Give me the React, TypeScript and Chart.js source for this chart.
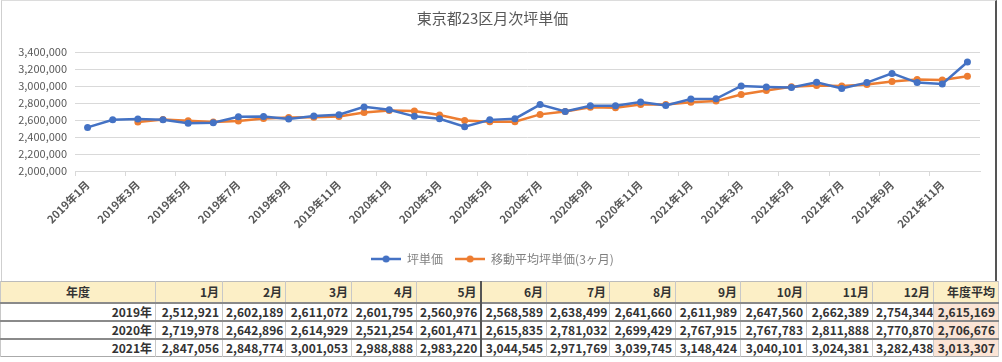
import React, { useEffect, useRef } from "react";
import { Chart, registerables } from "chart.js";

Chart.register(...registerables);

const FONT = "'Noto Sans CJK JP', 'Noto Sans', sans-serif";

const years = ["2019年", "2020年", "2021年"];
const monthHeaders = ["1月", "2月", "3月", "4月", "5月", "6月", "7月", "8月", "9月", "10月", "11月", "12月"];

const price2019 = [2512921, 2602189, 2611072, 2601795, 2560976, 2568589, 2638499, 2641660, 2611989, 2647560, 2662389, 2754344];
const price2020 = [2719978, 2642896, 2614929, 2521254, 2601471, 2615835, 2781032, 2699429, 2767915, 2767783, 2811888, 2770870];
const price2021 = [2847056, 2848774, 3001053, 2988888, 2983220, 3044545, 2971769, 3039745, 3148424, 3040101, 3024381, 3282438];
const annualAverage = [2615169, 2706676, 3013307];

const movingAverage = [
  null, null, 2575394, 2605019, 2591281, 2577120, 2589355, 2616249, 2630716, 2633736, 2640646, 2688098,
  2712237, 2705739, 2659268, 2593026, 2579218, 2579520, 2666113, 2698765, 2749459, 2745042, 2782529, 2783514,
  2809938, 2822233, 2898961, 2946238, 2991054, 3005551, 2999845, 3018686, 3053313, 3076090, 3070969, 3115640,
];

const yTicks = { min: 2000000, max: 3400000, step: 200000 };

const categories = years.flatMap((y) => monthHeaders.map((m) => y + m));
const priceRows = [price2019, price2020, price2021];

const BLUE = "#4472C4";
const ORANGE = "#ED7D31";

function legendImage(color: string) {
  const c = document.createElement("canvas");
  c.width = 30;
  c.height = 10;
  const g = c.getContext("2d")!;
  g.strokeStyle = color;
  g.lineWidth = 2.5;
  g.beginPath();
  g.moveTo(0, 5);
  g.lineTo(30, 5);
  g.stroke();
  g.fillStyle = color;
  g.beginPath();
  g.arc(15, 5, 3.5, 0, Math.PI * 2);
  g.fill();
  return c;
}

function fmt(n: number) {
  return n.toLocaleString("en-US");
}

const colWidths = [155, 67, 63, 66, 65, 64, 66, 63, 66, 65, 66, 66, 61, 65];

export default function App() {
  const ref = useRef<HTMLCanvasElement | null>(null);

  useEffect(() => {
    document.body.style.margin = "0";
    const imgs = [legendImage(BLUE), legendImage(ORANGE)];
    const chart = new Chart(ref.current!, {
      type: "line",
      data: {
        labels: categories,
        datasets: [
          {
            label: "坪単価",
            data: [...price2019, ...price2020, ...price2021],
            borderColor: BLUE,
            backgroundColor: BLUE,
            borderWidth: 2.5,
            pointRadius: 3.5,
            pointBorderWidth: 0,
            tension: 0,
          },
          {
            label: "移動平均坪単価(3ヶ月)",
            data: movingAverage,
            borderColor: ORANGE,
            backgroundColor: ORANGE,
            borderWidth: 2.5,
            pointRadius: 3.5,
            pointBorderWidth: 0,
            tension: 0,
          },
        ],
      },
      options: {
        responsive: false,
        animation: false,
        layout: { padding: { left: 3, right: 16, top: 0, bottom: 6 } },
        plugins: {
          tooltip: { enabled: false },
          title: {
            display: true,
            text: "東京都23区月次坪単価",
            color: "#595959",
            font: { size: 15, family: FONT, weight: "normal" },
            padding: { top: 8, bottom: 25 },
          },
          legend: {
            position: "bottom",
            labels: {
              usePointStyle: true,
              pointStyleWidth: 30,
              color: "#7f7f7f",
              font: { size: 12, family: FONT },
              padding: 12,
              generateLabels: (ch: any) => {
                const items = Chart.defaults.plugins.legend.labels.generateLabels(ch);
                return items.map((it: any, i: number) => ({ ...it, pointStyle: imgs[i] }));
              },
            },
          },
        },
        scales: {
          x: {
            offset: true,
            grid: {
              offset: true,
              drawOnChartArea: false,
              tickLength: 5,
              color: (ctx: any) => (ctx.index % 2 === 0 ? "#d9d9d9" : "rgba(0,0,0,0)"),
            },
            border: { color: "#d9d9d9" },
            ticks: {
              autoSkip: false,
              maxRotation: 45,
              minRotation: 45,
              padding: 2,
              color: "#595959",
              font: { size: 11, weight: "bold", family: FONT },
              callback: (_v: any, i: number) => (i % 2 === 0 ? categories[i] : ""),
            },
            afterFit: (s: any) => {
              s.height = 70;
            },
          },
          y: {
            min: yTicks.min,
            max: yTicks.max,
            ticks: {
              stepSize: yTicks.step,
              color: "#595959",
              font: { size: 11, family: FONT },
              padding: 8,
              callback: (v: any) => fmt(Number(v)),
            },
            grid: { color: "#d9d9d9", drawTicks: false },
            border: { display: false },
            afterFit: (s: any) => {
              s.width = 70;
            },
          },
        },
      },
    } as any);
    return () => chart.destroy();
  }, []);

  const cellBase: React.CSSProperties = {
    padding: "0 3px",
    textAlign: "right",
    borderLeft: "1px solid #c8c8c8",
    borderRight: "1px solid #c8c8c8",
    whiteSpace: "nowrap",
    overflow: "hidden",
    lineHeight: "16px",
  };
  const sepLeft = (i: number): React.CSSProperties =>
    i === 6 ? { borderLeft: "2px solid #555" } : {};

  return (
    <div style={{ position: "relative", width: 1002, height: 362, background: "#fff", overflow: "hidden" }}>
      <div
        style={{
          position: "absolute",
          left: 1,
          top: 0,
          width: 996,
          height: 281,
          borderLeft: "1px solid #cfcfcf",
          borderTop: "1px solid #dcdcdc",
          borderRight: "2px solid #555",
          boxSizing: "border-box",
          overflow: "hidden",
        }}
      >
        <canvas ref={ref} width={994} height={280} style={{ display: "block" }} />
      </div>
      <table
        style={{
          position: "absolute",
          left: 0,
          top: 281,
          width: 998,
          borderCollapse: "collapse",
          tableLayout: "fixed",
          fontFamily: FONT,
          fontWeight: "bold",
          fontSize: 12,
          color: "#333",
          borderRight: "1px solid #999",
        }}
      >
        <colgroup>
          {colWidths.map((w, i) => (
            <col key={i} style={{ width: w }} />
          ))}
        </colgroup>
        <tbody>
          <tr style={{ height: 21, background: "#fcefc6", borderTop: "1px solid #bbb", borderBottom: "1px solid #c9c9c9" }}>
            <td style={{ ...cellBase, textAlign: "center" }}>年度</td>
            {monthHeaders.map((m, i) => (
              <td key={m} style={{ ...cellBase, ...sepLeft(i + 1) }}>
                {m}
              </td>
            ))}
            <td style={{ ...cellBase }}>年度平均</td>
          </tr>
          {priceRows.map((row, r) => (
            <tr key={r} style={{ height: 18, borderTop: "2px solid #8a8a8a", borderBottom: r === 2 ? "1px solid #aaa" : undefined }}>
              <td style={{ ...cellBase }}>{years[r]}</td>
              {row.map((v, i) => (
                <td key={i} style={{ ...cellBase, ...sepLeft(i + 1) }}>
                  {fmt(v)}
                </td>
              ))}
              <td style={{ ...cellBase, background: "#fbe4d5" }}>{fmt(annualAverage[r])}</td>
            </tr>
          ))}
        </tbody>
      </table>
    </div>
  );
}
